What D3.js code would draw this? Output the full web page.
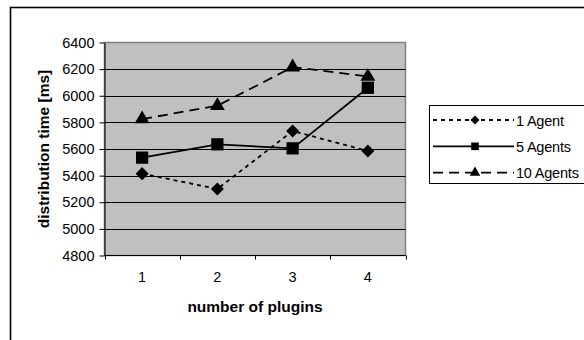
<!DOCTYPE html>
<html>
<head>
<meta charset="utf-8">
<script src="https://cdn.jsdelivr.net/npm/d3@7"></script>
<style>
  body { margin: 0; background: #fff; }
  svg { display: block; font-family: "Liberation Sans", Arial, sans-serif; }
</style>
</head>
<body>
<svg id="chart" width="584" height="340"></svg>
<script>
// data
const plugins = [1, 2, 3, 4];
const seriesNames = ["1 Agent", "5 Agents", "10 Agents"];
const agent1 = [5415, 5300, 5735, 5585];
const agents5 = [5535, 5635, 5605, 6060];
const agents10 = [5825, 5925, 6215, 6145];
const yTicks = [4800, 5000, 5200, 5400, 5600, 5800, 6000, 6200, 6400];

const svg = d3.select("#chart");
const FONT = "Liberation Sans, Arial, sans-serif";

// outer chart frame (only top and left edges visible)
svg.append("rect")
  .attr("x", 10.5).attr("y", 7.5)
  .attr("width", 700).attr("height", 500)
  .attr("fill", "none")
  .attr("stroke", "#000")
  .attr("stroke-width", 1.6);

// plot area
const L = 104.5, T = 42.5, R = 405.5, B = 255.5;

const x = d3.scaleBand().domain(plugins).range([L, R]);
const y = d3.scaleLinear().domain([4800, 6400]).range([B, T]);

svg.append("rect")
  .attr("x", L).attr("y", T)
  .attr("width", R - L).attr("height", B - T)
  .attr("fill", "#c0c0c0")
  .attr("stroke", "#808080")
  .attr("stroke-width", 1.5);

// gridlines
svg.append("g")
  .selectAll("line")
  .data(yTicks.slice(1, -1))
  .join("line")
  .attr("x1", L).attr("x2", R)
  .attr("y1", d => Math.round(y(d)) + 0.5)
  .attr("y2", d => Math.round(y(d)) + 0.5)
  .attr("stroke", "#000")
  .attr("stroke-width", 1);

// y axis
const yAxis = svg.append("g")
  .attr("transform", `translate(${L},0)`)
  .call(d3.axisLeft(y).tickValues(yTicks).tickFormat(d3.format("d"))
    .tickSize(5).tickPadding(5).tickSizeOuter(0));
yAxis.select(".domain").attr("stroke", "#000").attr("stroke-width", 1);
yAxis.selectAll(".tick line").attr("stroke", "#000");
yAxis.selectAll("text")
  .attr("font-size", 14.5)
  .attr("fill", "#000")
  .attr("font-family", FONT);

// x axis with ticks at band boundaries
const xAxis = svg.append("g")
  .attr("transform", `translate(0,${B})`);
xAxis.append("line")
  .attr("x1", L).attr("x2", R)
  .attr("stroke", "#000").attr("stroke-width", 1);
xAxis.selectAll(".bt")
  .data(plugins.map(p => x(p)).concat([R]))
  .join("line")
  .attr("class", "bt")
  .attr("x1", d => Math.round(d) + 0.5).attr("x2", d => Math.round(d) + 0.5)
  .attr("y1", 0).attr("y2", 4)
  .attr("stroke", "#000");
xAxis.selectAll("text")
  .data(plugins)
  .join("text")
  .attr("x", d => x(d) + x.bandwidth() / 2)
  .attr("y", 26)
  .attr("text-anchor", "middle")
  .attr("font-size", 14.5)
  .text(d => d);

// axis titles
svg.append("text")
  .attr("x", 255).attr("y", 312)
  .attr("text-anchor", "middle")
  .attr("font-size", 15.5)
  .attr("font-weight", "bold")
  .text("number of plugins");

svg.append("text")
  .attr("transform", `translate(49,${(T + B) / 2}) rotate(-90)`)
  .attr("text-anchor", "middle")
  .attr("font-size", 15.5)
  .attr("font-weight", "bold")
  .text("distribution time [ms]");

// series
const diamond = { draw(ctx, size) { const r = Math.sqrt(size / 2); ctx.moveTo(0, -r); ctx.lineTo(r, 0); ctx.lineTo(0, r); ctx.lineTo(-r, 0); ctx.closePath(); } };
const series = [
  { name: seriesNames[0], values: agent1, dash: "4,4", symbol: diamond, size: 85, lsize: 40 },
  { name: seriesNames[1], values: agents5, dash: null, symbol: d3.symbolSquare, size: 150, lsize: 58 },
  { name: seriesNames[2], values: agents10, dash: "10,6", symbol: d3.symbolTriangle, size: 95, lsize: 48 }
];

const line = d3.line()
  .x((d, i) => x(plugins[i]) + x.bandwidth() / 2)
  .y(d => y(d));

series.forEach(s => {
  svg.append("path")
    .datum(s.values)
    .attr("d", line)
    .attr("fill", "none")
    .attr("stroke", "#000")
    .attr("stroke-width", 1.8)
    .attr("stroke-dasharray", s.dash);
  svg.append("g")
    .selectAll("path")
    .data(s.values)
    .join("path")
    .attr("transform", (d, i) => `translate(${x(plugins[i]) + x.bandwidth() / 2},${y(d)})`)
    .attr("d", d3.symbol().type(s.symbol).size(s.size))
    .attr("fill", "#000");
});

// legend
const lg = svg.append("g");
lg.append("rect")
  .attr("x", 429.5).attr("y", 105.5)
  .attr("width", 300).attr("height", 78)
  .attr("fill", "#fff")
  .attr("stroke", "#000")
  .attr("stroke-width", 1);

series.forEach((s, i) => {
  const ly = 120 + i * 26.3;
  lg.append("line")
    .attr("x1", 433).attr("x2", 514)
    .attr("y1", ly).attr("y2", ly)
    .attr("stroke", "#000")
    .attr("stroke-width", 1.8)
    .attr("stroke-dasharray", s.dash);
  lg.append("path")
    .attr("transform", `translate(475,${ly})`)
    .attr("d", d3.symbol().type(s.symbol).size(s.lsize))
    .attr("fill", "#000");
  lg.append("text")
    .attr("x", 516).attr("y", ly + 5.5)
    .attr("font-size", 14.5)
    .attr("letter-spacing", -0.2)
    .text(s.name);
});
</script>
</body>
</html>
